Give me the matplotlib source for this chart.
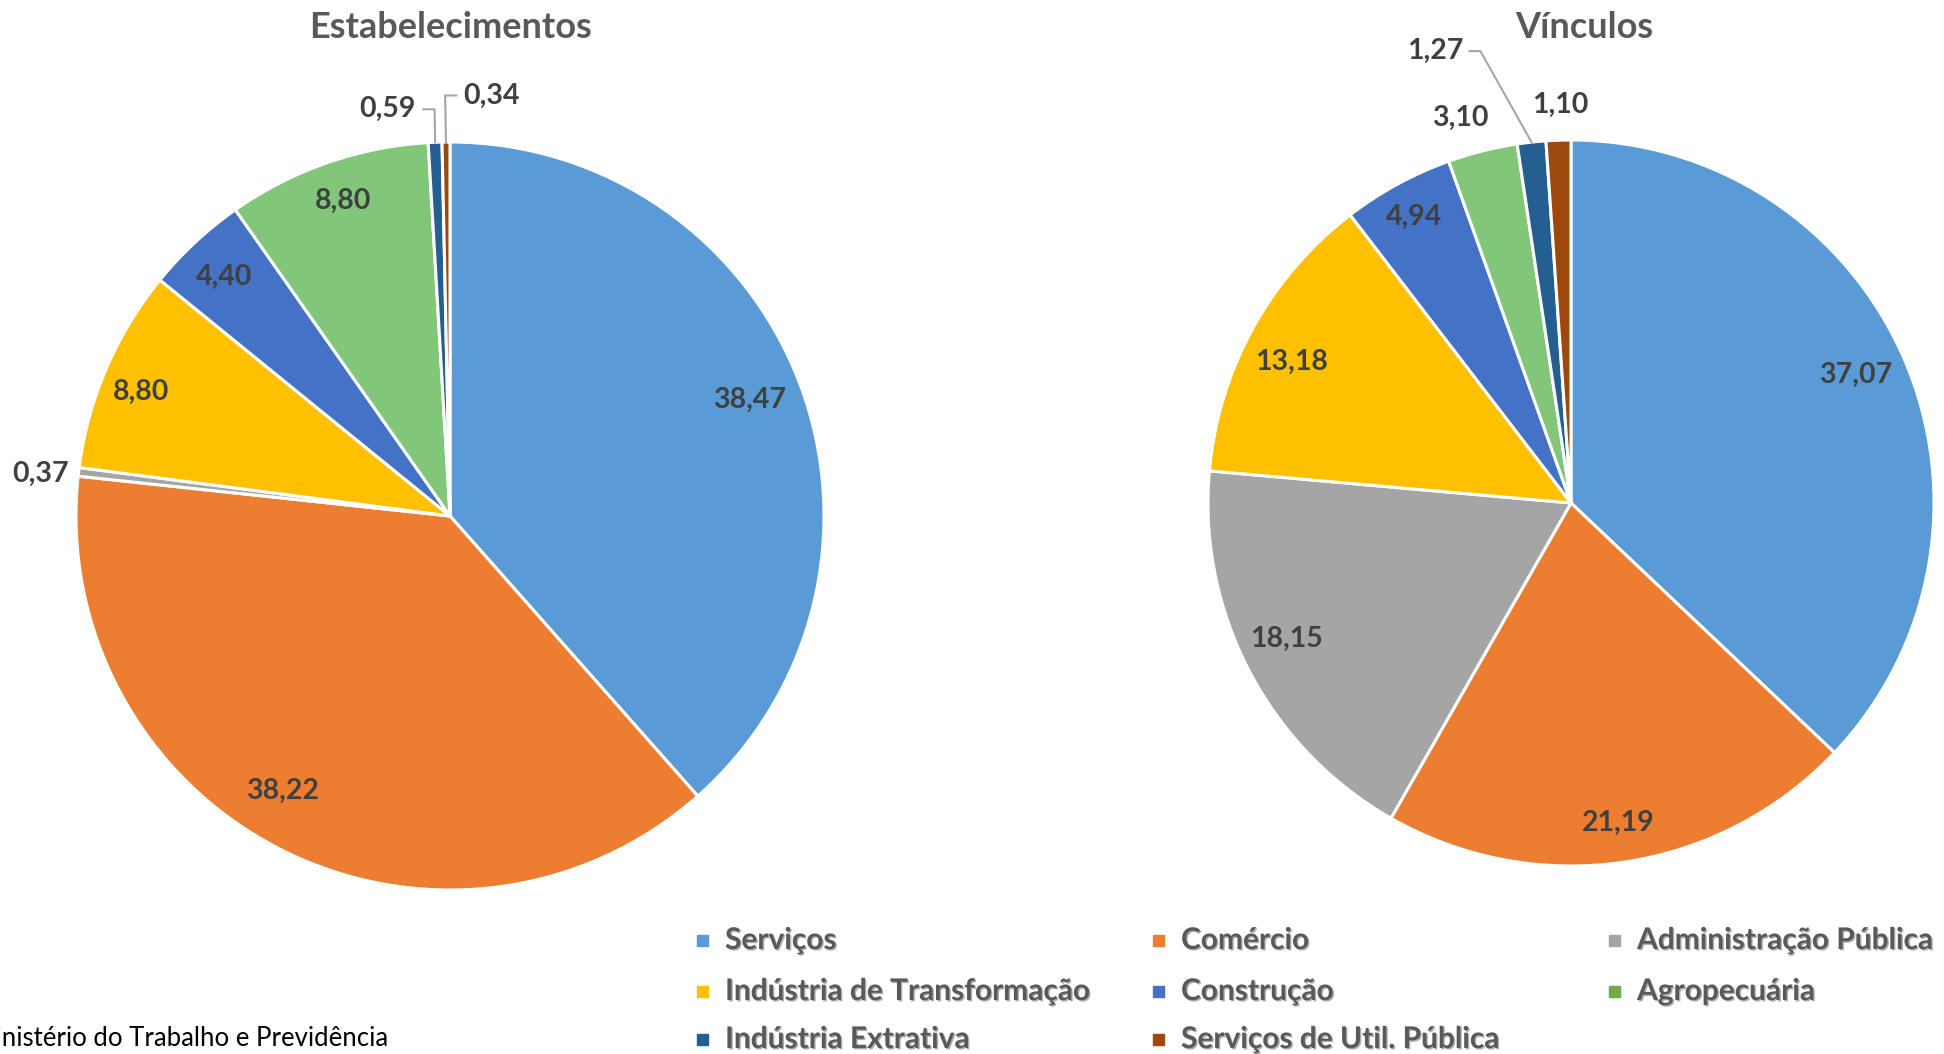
import numpy as np
import matplotlib
matplotlib.use("Agg")
import matplotlib.pyplot as plt
from matplotlib.patches import Rectangle
import matplotlib.patheffects as pe

plt.rcParams['font.family'] = ['Lato', 'DejaVu Sans']

# data
setores = ['Serviços', 'Comércio', 'Administração Pública', 'Indústria de Transformação',
           'Construção', 'Agropecuária', 'Indústria Extrativa', 'Serviços de Util. Pública']
estab = [38.47, 38.22, 0.37, 8.80, 4.40, 8.80, 0.59, 0.34]
vinc = [37.07, 21.19, 18.15, 13.18, 4.94, 3.10, 1.27, 1.10]
titulos = ['Estabelecimentos', 'Vínculos']
fonte = 'Fonte: Ministério do Trabalho e Previdência'

cores_pie = ['#5B9BD5', '#ED7D31', '#A5A5A5', '#FFC000', '#4472C4', '#82C67A', '#255E91', '#9E480E']
cores_leg = ['#5B9BD5', '#ED7D31', '#A5A5A5', '#FFC000', '#4472C4', '#70AD47', '#255E91', '#9E480E']

W, H = 1944, 1054
fig = plt.figure(figsize=(W / 100, H / 100), dpi=100)

# label layout per wedge: (radius, angle nudge in deg, leader line?)
lay_estab = [(0.86, 0.5, False), (0.86, -4, False), (1.10, 0.9, False), (0.89, 1.3, False),
             (0.88, 0.5, False), (0.89, -0.4, False), (1.10, 6.4, True), (1.13, -6.3, True)]
lay_vinc = [(0.86, 1.0, False), (0.89, 0.0, False), (0.867, -2.1, False), (0.864, 2.0, False),
            (0.90, 0.2, False), (1.104, 1.9, False), (1.30, 10.5, True), (1.096, -0.4, False)]

# pie placement in pixels: center x, center y (from top), radius, title x
geo = [(450, 516, 374, 450), (1571, 503, 363, 1584)]

def draw_pie(vals, title, layout, g):
    cx, cy, r, tx = g
    ax = fig.add_axes([(cx - r) / W, (H - cy - r) / H, 2 * r / W, 2 * r / H])
    wedges, _ = ax.pie(vals, colors=cores_pie, startangle=90, counterclock=False,
                       radius=1, wedgeprops=dict(edgecolor='white', linewidth=2.2))
    ax.set_xlim(-1, 1)
    ax.set_ylim(-1, 1)
    ax.set_aspect('equal')
    ax.axis('off')
    for w, v, (rad, dth, lead) in zip(wedges, vals, layout):
        mid = (w.theta1 + w.theta2) / 2
        a = np.deg2rad(mid + dth)
        x, y = rad * np.cos(a), rad * np.sin(a)
        txt = f'{v:.2f}'.replace('.', ',')
        ax.text(x, y, txt, ha='center', va='center', fontsize=20.5, fontweight='bold',
                color='#404040', clip_on=False)
        if lead:
            am = np.deg2rad(mid)
            ex, ey = 1.0 * np.cos(am), 1.0 * np.sin(am)
            side = 1 if ex > x else -1
            sx = x + side * 0.095
            ax.plot([sx, sx + side * 0.03, ex], [y, y, ey], color='#A6A6A6',
                    lw=1.5, clip_on=False)
    fig.text(tx / W, 1 - 27 / H, title, ha='center', va='center', fontsize=26,
             fontweight='bold', color='#595959')

draw_pie(estab, titulos[0], lay_estab, geo[0])
draw_pie(vinc, titulos[1], lay_vinc, geo[1])

# legend (row-wise like Excel, fixed column widths)
col_x = [702, 1158, 1614]
row_y = [940, 991, 1039]
for i, (nome, c) in enumerate(zip(setores, cores_leg)):
    rx, ry = col_x[i % 3], row_y[i // 3]
    fig.patches.append(Rectangle(((rx - 5) / W, 1 - (ry + 6) / H), 11 / W, 11 / H,
                                 transform=fig.transFigure, color=c, figure=fig))
    fig.text((rx + 23) / W, 1 - ry / H, nome, ha='left', va='center', fontsize=21.5,
             fontweight='bold', color='#595959',
             path_effects=[pe.SimplePatchShadow(offset=(1, -1), alpha=0.35), pe.Normal()])

fig.text(388 / W, 1 - 1039 / H, fonte, ha='right', va='center', fontsize=18.5, color='black')

fig.savefig('out.png', dpi=100)
